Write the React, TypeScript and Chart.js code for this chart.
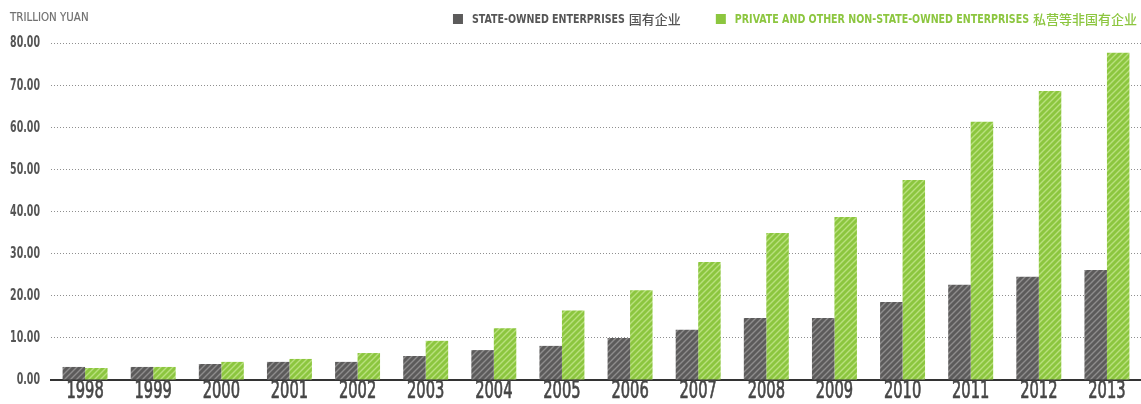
import React, { useEffect, useRef } from "react";
import { Chart, registerables } from "chart.js";

Chart.register(...registerables);

const years = ["1998","1999","2000","2001","2002","2003","2004","2005","2006","2007","2008","2009","2010","2011","2012","2013"];
const stateOwned = [3.1, 3.1, 3.8, 4.3, 4.3, 5.7, 7.1, 8.1, 10.0, 11.9, 14.7, 14.7, 18.5, 22.6, 24.5, 26.1];
const privateOther = [2.85, 3.1, 4.3, 5.0, 6.4, 9.3, 12.3, 16.5, 21.3, 28.0, 34.9, 38.7, 47.5, 61.3, 68.6, 77.7];
const yTicks = [0, 10, 20, 30, 40, 50, 60, 70, 80];
const seriesLatin = ["STATE-OWNED ENTERPRISES", "PRIVATE AND OTHER NON-STATE-OWNED ENTERPRISES"];
const seriesChinese = ["国有企业", "私营等非国有企业"];
const unitLabel = "TRILLION YUAN";

const GREY = "#5c5b5b";
const GREY_LINE = "#8e8d8d";
const GREEN = "#8cc63f";
const GREEN_LINE = "#b9e07e";
const FONT = "'DejaVu Sans Condensed', 'DejaVu Sans', sans-serif";
const CJK = "'Noto Sans CJK SC', sans-serif";

function makePattern(base: string, line: string): CanvasPattern | string {
  const s = 6;
  const c = document.createElement("canvas");
  c.width = s;
  c.height = s;
  const ctx = c.getContext("2d");
  if (!ctx) return base;
  ctx.fillStyle = base;
  ctx.fillRect(0, 0, s, s);
  ctx.strokeStyle = line;
  ctx.lineWidth = 1.4;
  ctx.beginPath();
  ctx.moveTo(-1, s + 1); ctx.lineTo(s + 1, -1);
  ctx.moveTo(-s / 2 - 1, s / 2 + 1); ctx.lineTo(s / 2 + 1, -s / 2 - 1);
  ctx.moveTo(s / 2 - 1, s * 1.5 + 1); ctx.lineTo(s * 1.5 + 1, s / 2 - 1);
  ctx.stroke();
  const p = ctx.createPattern(c, "repeat");
  return p || base;
}

// draw text horizontally condensed by factor sx (optional stroke to embolden)
function condensed(ctx: CanvasRenderingContext2D, text: string, x: number, y: number, sx: number, align: string, stroke = 0) {
  const w = ctx.measureText(text).width * sx;
  let left = x;
  if (align === "right") left = x - w;
  else if (align === "center") left = x - w / 2;
  ctx.save();
  ctx.textAlign = "left";
  ctx.translate(left, y);
  ctx.scale(sx, 1);
  ctx.fillText(text, 0, 0);
  if (stroke > 0) {
    ctx.strokeStyle = ctx.fillStyle as string;
    ctx.lineWidth = stroke;
    ctx.lineJoin = "round";
    ctx.strokeText(text, 0, 0);
  }
  ctx.restore();
  return w;
}

export default function App() {
  const ref = useRef<HTMLCanvasElement | null>(null);
  useEffect(() => {
    if (!ref.current) return;
    const textPlugin = {
      id: "condensedText",
      afterDraw(chart: any) {
        const ctx: CanvasRenderingContext2D = chart.ctx;
        const xs = chart.scales.x;
        const ys = chart.scales.y;
        ctx.save();
        ctx.textBaseline = "middle";

        // unit label
        ctx.font = `13px ${FONT}`;
        ctx.fillStyle = "#707070";
        condensed(ctx, unitLabel, 10, 18, 0.88, "left", 0.2);

        // y tick labels
        ctx.font = `bold 15px ${FONT}`;
        ctx.fillStyle = "#555555";
        yTicks.forEach((v) => {
          condensed(ctx, v.toFixed(2), 40, ys.getPixelForValue(v) + 0.5, 0.7, "right");
        });

        // x tick labels
        ctx.font = `24px ${FONT}`;
        ctx.fillStyle = "#474747";
        years.forEach((yr, i) => {
          condensed(ctx, yr, xs.getPixelForValue(i), 392, 0.68, "center", 0.7);
        });

        // legend (right aligned)
        const sx = 0.88;
        const latinFont = `bold 12px ${FONT}`;
        const cjkFont = `500 13px ${CJK}`;
        const colors = [GREY, GREEN];
        const textColors = ["#555555", "#8cc63f"];
        const widths = seriesLatin.map((t, i) => {
          ctx.font = latinFont;
          const a = ctx.measureText(t).width * sx;
          ctx.font = cjkFont;
          const b = ctx.measureText(seriesChinese[i]).width;
          return { a, b };
        });
        const box = 10, boxGap = 9, space = 4, itemGap = 35;
        const total = widths.reduce((s, w) => s + box + boxGap + w.a + space + w.b, 0) + itemGap;
        let x = 1137 - total;
        const cy = 19;
        seriesLatin.forEach((t, i) => {
          ctx.fillStyle = colors[i];
          ctx.fillRect(x, cy - box / 2, box, box);
          x += box + boxGap;
          ctx.fillStyle = textColors[i];
          ctx.font = latinFont;
          condensed(ctx, t, x, cy + 0.5, sx, "left");
          x += widths[i].a + space;
          ctx.font = cjkFont;
          ctx.textAlign = "left";
          ctx.fillText(seriesChinese[i], x, cy + 0.5);
          x += widths[i].b + itemGap;
        });
        ctx.restore();
      },
    };
    const chart = new Chart(ref.current, {
      type: "bar",
      data: {
        labels: years,
        datasets: [
          { label: seriesLatin[0], data: stateOwned, backgroundColor: makePattern(GREY, GREY_LINE) as any, borderWidth: 0 },
          { label: seriesLatin[1], data: privateOther, backgroundColor: makePattern(GREEN, GREEN_LINE) as any, borderWidth: 0 },
        ],
      },
      options: {
        animation: false,
        responsive: false,
        maintainAspectRatio: false,
        layout: { padding: { left: 0, right: 0, top: 43, bottom: 0 } },
        datasets: { bar: { categoryPercentage: 0.66, barPercentage: 1.0 } },
        plugins: {
          tooltip: { enabled: false },
          legend: { display: false },
        },
        scales: {
          x: {
            grid: { display: false, drawTicks: false },
            border: { display: true, color: "#333333", width: 2 },
            ticks: { display: false },
            afterFit: (s: any) => { s.height = 24; },
          },
          y: {
            min: 0,
            max: 80,
            afterBuildTicks: (s: any) => { s.ticks = yTicks.map((v) => ({ value: v })); },
            grid: { color: "#8f8f8f", lineWidth: 1, drawTicks: false },
            border: { display: false, dash: [1, 2] },
            ticks: { display: false },
            afterFit: (s: any) => { s.width = 51; },
          },
        },
      },
      plugins: [textPlugin],
    });
    return () => chart.destroy();
  }, []);
  return (
    <div style={{ position: "absolute", left: 0, top: 0, width: 1141, height: 404, background: "#fff" }}>
      <canvas ref={ref} width={1141} height={404} style={{ width: 1141, height: 404, display: "block" }} />
    </div>
  );
}
